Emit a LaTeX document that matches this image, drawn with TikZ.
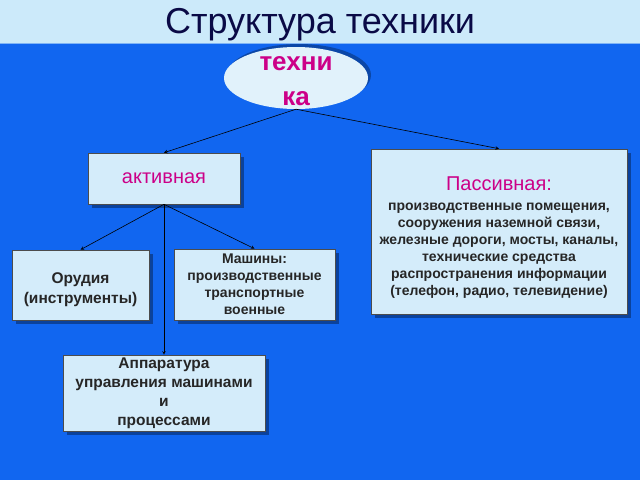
\documentclass[tikz,border=0pt]{standalone}
\usepackage{fontspec}
\setmainfont{Liberation Sans}
\usetikzlibrary{shapes.geometric,shadows}
%
\definecolor{fond}{RGB}{17,102,240}
\definecolor{bande}{RGB}{204,234,250}
\definecolor{boite}{RGB}{212,236,250}
\definecolor{titre}{RGB}{10,10,70}
\definecolor{rose}{RGB}{204,0,136}
%
\tikzset{
  ombre/.style={drop shadow={shadow xshift=4pt,shadow yshift=-4pt,fill=black,opacity=0.35}},
  boite/.style={draw=black!70,fill=boite,line width=0.6pt,ombre,align=center,inner sep=0pt,
                text=black!85,font=\bfseries\fontsize{14}{17}\selectfont},
  fleche/.style={->,>=stealth,line width=0.6pt},
}
\begin{document}
\begin{tikzpicture}[x=1pt,y=-1pt]%{{{
\useasboundingbox (0,0) rectangle (640,480);
%
% Fond
\fill [bande] (0,0) rectangle (640,43);
\fill [fond]  (0,43) rectangle (640,480);
\draw [bande!60!fond, line width=1pt] (0,43) -- (640,43);
%
% Titre
\node (titre) at (320,25) {\color{titre}\fontsize{36}{40}\selectfont Структура техники};
%
% Technique
\node [ellipse, fill=boite!70!white, minimum width=144pt, minimum height=62pt,
       drop shadow={shadow xshift=3pt,shadow yshift=3pt,fill=black,opacity=0.3}] (tech) at (296,78) {};
\node [align=center, text=rose, font=\bfseries\fontsize{26}{35}\selectfont] (techtxt) at (296,81) {техни\\ка};
%
% Active / passive
\node [boite, minimum width=152pt, minimum height=51pt] (akt) at (164,178.5)
      {\mdseries\color{rose}\fontsize{20}{24}\selectfont активная};
\node [boite, minimum width=256pt, minimum height=165pt] (pass) at (499,231.5)
      {\rule{0pt}{25pt}{\mdseries\color{rose}\fontsize{20}{22}\selectfont Пассивная:}\\[3pt]
       производственные помещения,\\
       сооружения наземной связи,\\
       железные дороги, мосты, каналы,\\
       технические средства\\
       распространения информации\\
       (телефон, радио, телевидение)};
%
% Sous-ensembles de l'active
\node [boite, minimum width=137pt, minimum height=70pt, font=\bfseries\fontsize{15.5}{20}\selectfont]
      (orud) at (80.5,285) {\rule{0pt}{20pt}Орудия\\(инструменты)};
\node [boite, minimum width=161pt, minimum height=71pt] (mash) at (254.5,284.5)
      {Машины:\\производственные\\транспортные\\военные};
\node [boite, minimum width=202pt, minimum height=76pt, font=\bfseries\fontsize{15.5}{19}\selectfont]
      (appar) at (164,393) {Аппаратура\\управления машинами\\и\\процессами};
%
% Fleches
\draw [fleche] (tech.south) -- (akt.north);
\draw [fleche] (tech.south) -- (pass.north);
\draw [fleche] (akt.south) -- (orud.north);
\draw [fleche] (akt.south) -- (mash.north);
\draw [fleche] (akt.south) -- (appar.north);
%
\end{tikzpicture}
\end{document}
